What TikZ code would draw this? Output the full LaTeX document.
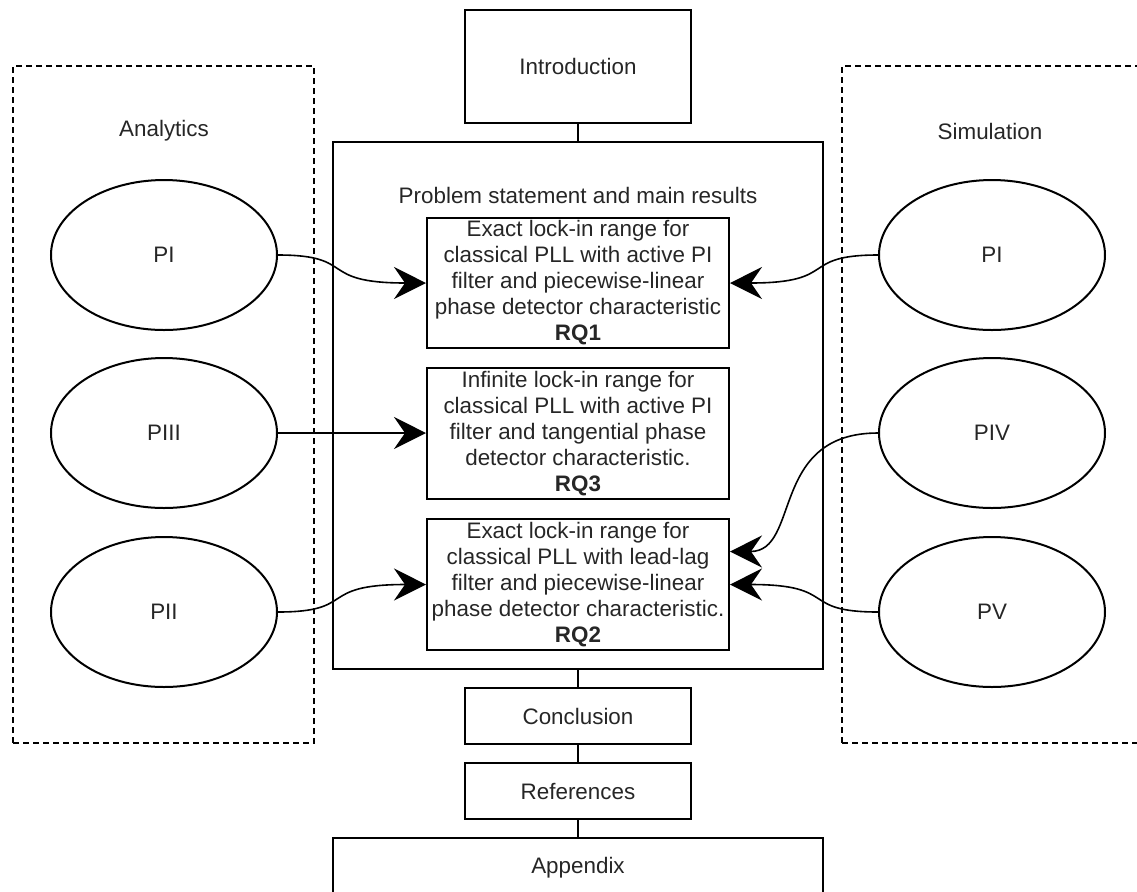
\documentclass[tikz,border=0pt]{standalone}
\usepackage{fontspec}
\setmainfont{Liberation Sans}
\usepackage{tikz}
\usetikzlibrary{arrows.meta}
\usetikzlibrary{shapes.geometric}

\begin{document}
\begin{tikzpicture}[x=0.5pt,y=-0.5pt,line width=1pt,
        font=\fontsize{11.2}{13}\selectfont,text=black!85,
        box/.style={draw,rectangle,inner sep=0pt,align=center},
        paper/.style={draw,ellipse,minimum width=113pt,minimum height=75pt,inner sep=0pt},
        group/.style={draw,rectangle,densely dashed,line width=0.6pt,inner sep=0pt},
        link/.style={line width=0.8pt,-{Stealth[length=16pt,width=16pt,inset=5.5pt]}}]
        \def\midX{578}
        \def\leftX{164}
        \def\rightX{992}
        \def\rowA{255}
        \def\rowB{433}
        \def\rowC{612}

        \useasboundingbox (0,0) rectangle (1137,891);

        \node[group,minimum width=150.5pt,minimum height=338.5pt] (analytics) at (163.5,404.5) {};
        \node[group,minimum width=150.5pt,minimum height=338.5pt] (simulation) at (992.5,404.5) {};
        \node (analyticsLabel) at (\leftX,131) {Analytics};
        \node (simulationLabel) at (990,131) {Simulation};

        \node[box,minimum width=113pt,minimum height=56.5pt] (intro) at (\midX,66.5) {Introduction};
        \node[box,minimum width=245pt,minimum height=263.5pt] (main) at (\midX,405.5) {};
        \node (mainLabel) at (\midX,195) {Problem statement and main results};
        \node[box,minimum width=151pt,minimum height=65pt] (rqOne) at (\midX,283)
            {Exact lock-in range for\\classical PLL with active PI\\filter and piecewise-linear\\phase detector characteristic\\\textbf{RQ1}};
        \node[box,minimum width=151pt,minimum height=65.5pt] (rqThree) at (\midX,433.5)
            {Infinite lock-in range for\\classical PLL with active PI\\filter and tangential phase\\detector characteristic.\\\textbf{RQ3}};
        \node[box,minimum width=151pt,minimum height=65.5pt] (rqTwo) at (\midX,584.5)
            {Exact lock-in range for\\classical PLL with lead-lag\\filter and piecewise-linear\\phase detector characteristic.\\\textbf{RQ2}};
        \node[box,minimum width=113pt,minimum height=28pt] (concl) at (\midX,716) {Conclusion};
        \node[box,minimum width=113pt,minimum height=28pt] (refs) at (\midX,791) {References};
        \node[box,minimum width=245pt,minimum height=30pt] (appx) at (\midX,868) {Appendix};

        \node[paper] (aPI) at (\leftX,\rowA) {PI};
        \node[paper] (aPIII) at (\leftX,\rowB) {PIII};
        \node[paper] (aPII) at (\leftX,\rowC) {PII};
        \node[paper] (sPI) at (\rightX,\rowA) {PI};
        \node[paper] (sPIV) at (\rightX,\rowB) {PIV};
        \node[paper] (sPV) at (\rightX,\rowC) {PV};

        \draw (intro) -- (main);
        \draw (main) -- (concl);
        \draw (concl) -- (refs);
        \draw (refs) -- (appx);

        \draw[link] (aPI.east) .. controls +(80,0) and +(-110,0) .. (rqOne.west);
        \draw[link] (aPIII.east) -- (rqThree.west |- aPIII.east);
        \draw[link] (aPII.east) .. controls +(80,0) and +(-110,0) .. (rqTwo.west);
        \draw[link] (sPI.west) .. controls +(-80,0) and +(110,0) .. (rqOne.east);
        \draw[link] (sPIV.west) .. controls +(-109,0) and +(71,0) .. ([yshift=16.5pt]rqTwo.east);
        \draw[link] (sPV.west) .. controls +(-80,0) and +(110,0) .. (rqTwo.east);
    \end{tikzpicture}
\end{document}
